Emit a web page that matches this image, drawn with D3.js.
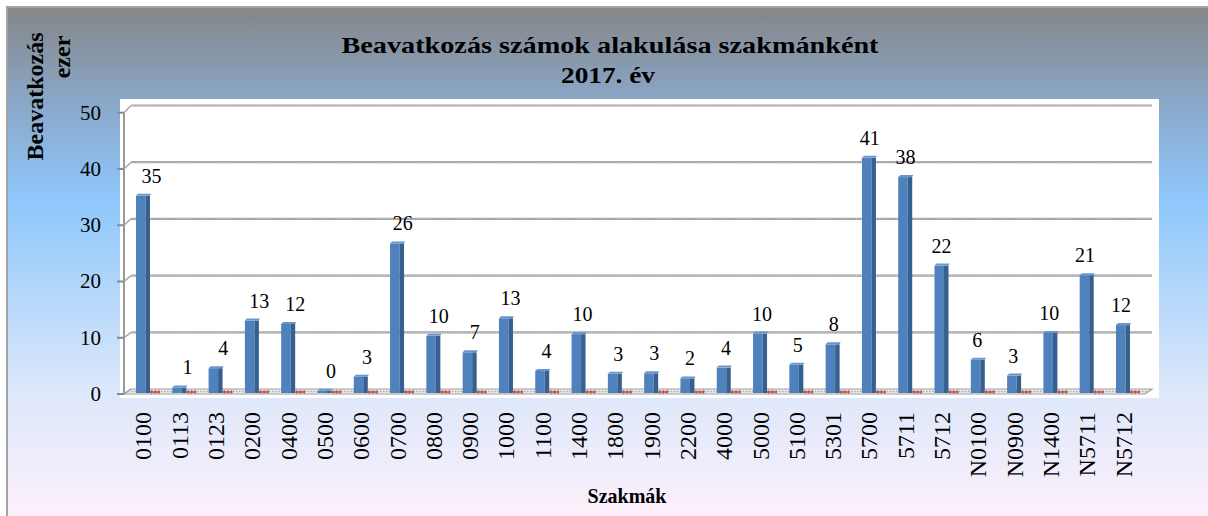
<!DOCTYPE html>
<html><head><meta charset="utf-8">
<script src="https://cdn.jsdelivr.net/npm/d3@7"></script>
<style>html,body{margin:0;padding:0;background:#fff;}svg{display:block;}</style>
</head><body>
<svg id="chart" width="1208" height="516"></svg>
<script>
const categories = ["0100","0113","0123","0200","0400","0500","0600","0700","0800","0900","1000","1100","1400","1800","1900","2200","4000","5000","5100","5301","5700","5711","5712","N0100","N0900","N1400","N5711","N5712"];
const values = [34.6,0.8,4.2,12.6,12.0,0.2,2.7,26.2,9.9,7.0,13.0,3.7,10.2,3.2,3.3,2.4,4.3,10.3,4.8,8.4,41.3,37.9,22.3,5.7,2.9,10.4,20.6,11.8];
const series2 = [0,0,0,0,0,0,0,0,0,0,0,0,0,0,0,0,0,0,0,0,0,0,0,0,0,0,0,0];
const yTicks = [0,10,20,30,40,50];
const titleLines = ["Beavatkozás számok alakulása szakmánként","2017. év"];
const yTitleLines = ["Beavatkozás","ezer"];
const xTitle = "Szakmák";

const svg = d3.select("#chart");
const serif = "'Liberation Serif','Times New Roman',Times,serif";

// background gradient
const defs = svg.append("defs");
const g = defs.append("linearGradient").attr("id","bg").attr("x1",0).attr("y1",0).attr("x2",0).attr("y2",1);
[[0,"#858687"],[0.18,"#8aa6c6"],[0.38,"#8ec7fb"],[0.76,"#dde8fa"],[1,"#fdf0fb"]].forEach(s=>g.append("stop").attr("offset",s[0]).attr("stop-color",s[1]));
svg.append("rect").attr("x",7).attr("y",7).attr("width",1201).attr("height",509).attr("fill","url(#bg)");
svg.append("path").attr("d","M7,516 V7 H1208").attr("fill","none").attr("stroke","#a3a3a3").attr("stroke-width",2);

// plot area
svg.append("rect").attr("x",120).attr("y",99).attr("width",1039).attr("height",299).attr("fill","#fff");

const x = d3.scaleBand().domain(categories).range([124.85,1141.15]).padding(0);
const cx = c => x(c) + x.bandwidth()/2;
const yFront = d3.scaleLinear().domain([0,50]).range([394,112.7]);
const yBack = d3.scaleLinear().domain([0,50]).range([389,105.5]);
const yBar = d3.scaleLinear().domain([0,50]).range([392,108.5]);
const dx = 7, xL = 124, xR = 1152;

// floor
svg.append("path")
  .attr("d",`M${xL},${yFront(0)} L${xL+dx},${yBack(0)} L${xR},${yBack(0)} L${xR-dx},${yFront(0)} Z`)
  .attr("fill","#ececec").attr("stroke","#a0a0a0").attr("stroke-width",1.2);
svg.append("line").attr("x1",xL+dx).attr("x2",xR-3).attr("y1",yBack(0)+2.5).attr("y2",yBack(0)+2.5)
  .attr("stroke","#a8a8a8").attr("stroke-width",1.5).attr("stroke-dasharray","1.5,1.5");

// gridlines on back wall
yTicks.filter(t=>t>0).forEach(t=>{
  svg.append("line").attr("x1",xL+dx).attr("x2",xR).attr("y1",yBack(t)).attr("y2",yBack(t))
    .attr("stroke","#a0a0a0").attr("stroke-width",2.2);
  svg.append("line").attr("x1",xL+dx).attr("x2",xR).attr("y1",yBack(t)).attr("y2",yBack(t))
    .attr("stroke","#dcdcdc").attr("stroke-width",1).attr("stroke-dasharray","1,1.5");
});
// y axis (left wall edge) with ticks and diagonals
svg.append("line").attr("x1",xL).attr("x2",xL).attr("y1",yFront(50)).attr("y2",yFront(0)).attr("stroke","#9a9a9a").attr("stroke-width",2);
yTicks.forEach(t=>{
  svg.append("line").attr("x1",117).attr("x2",xL).attr("y1",yFront(t)).attr("y2",yFront(t)).attr("stroke","#8a8a8a").attr("stroke-width",2);
  svg.append("line").attr("x1",xL).attr("x2",xL+dx).attr("y1",yFront(t)).attr("y2",yBack(t)).attr("stroke","#a6a6a6").attr("stroke-width",1.5);
  svg.append("text").attr("x",101).attr("y",yFront(t)+7).attr("text-anchor","end")
    .attr("font-family",serif).attr("font-size",21).attr("fill","#000").text(t);
});

// bars
const bars = svg.append("g");
categories.forEach((c,i)=>{
  const v = values[i], c0 = cx(c), top = yBar(v), base = 393;
  bars.append("rect").attr("x",c0-7).attr("y",top).attr("width",9.5).attr("height",base-top).attr("fill","#4f81bd");
  bars.append("rect").attr("x",c0+2.5).attr("y",top).attr("width",4.5).attr("height",base-top).attr("fill","#36608f");
  bars.append("path").attr("d",`M${c0-7},${top} L${c0-5},${top-2} L${c0+8},${top-2} L${c0+7},${top} Z`).attr("fill","#6a95cc");
  // second series (zero values) shown as red marks at the base
  const r = yBar(series2[i]);
  bars.append("line").attr("x1",c0+7).attr("x2",c0+17).attr("y1",r).attr("y2",r).attr("stroke","#c0504d").attr("stroke-width",1.6);
  bars.append("line").attr("x1",c0+8).attr("x2",c0+17).attr("y1",r).attr("y2",r).attr("stroke","#c0504d").attr("stroke-width",4).attr("stroke-dasharray","1.2,2.5").attr("opacity",0.8);
});

// data labels
const shift = d3.scaleLinear().domain([cx(categories[0]),cx(categories[categories.length-1])]).range([8.5,-2]);
categories.forEach((c,i)=>{
  svg.append("text").attr("x",cx(c)+shift(cx(c))).attr("y",yBar(values[i])-13).attr("text-anchor","middle")
    .attr("font-family",serif).attr("font-size",20).attr("fill","#000").text(d3.format(".0f")(values[i]));
});

// x labels
categories.forEach(c=>{
  svg.append("text").attr("transform",`translate(${cx(c)+8.5},412) rotate(-90)`).attr("text-anchor","end")
    .attr("font-family",serif).attr("font-size",24).attr("fill","#000").text(c);
});

// titles
svg.append("text").attr("x",610).attr("y",53).attr("text-anchor","middle").attr("font-family",serif).attr("font-weight","bold")
  .attr("font-size",24).attr("textLength",537).attr("lengthAdjust","spacingAndGlyphs").text(titleLines[0]);
svg.append("text").attr("x",608).attr("y",83).attr("text-anchor","middle").attr("font-family",serif).attr("font-weight","bold")
  .attr("font-size",24).attr("textLength",94).attr("lengthAdjust","spacingAndGlyphs").text(titleLines[1]);
svg.append("text").attr("transform","translate(43,96.5) rotate(-90)").attr("text-anchor","middle").attr("font-family",serif)
  .attr("font-weight","bold").attr("font-size",24).text(yTitleLines[0]);
svg.append("text").attr("transform","translate(70,57) rotate(-90)").attr("text-anchor","middle").attr("font-family",serif)
  .attr("font-weight","bold").attr("font-size",24).text(yTitleLines[1]);
svg.append("text").attr("x",627).attr("y",503).attr("text-anchor","middle").attr("font-family",serif)
  .attr("font-weight","bold").attr("font-size",20).text(xTitle);
</script>
</body></html>
